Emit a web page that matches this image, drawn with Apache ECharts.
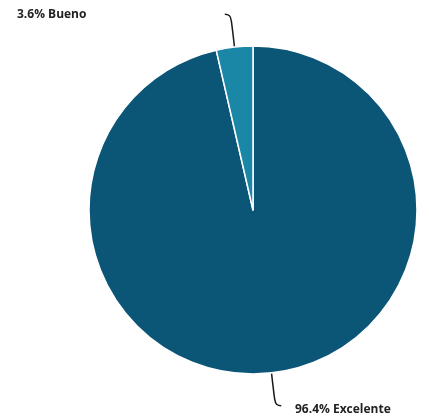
<!DOCTYPE html>
<html>
<head>
<meta charset="utf-8">
<script src="https://cdn.jsdelivr.net/npm/echarts@6/dist/echarts.min.js"></script>
<style>
html,body{margin:0;padding:0;background:#fff;}
#chart{width:429px;height:418px;}
</style>
</head>
<body>
<div id="chart"></div>
<script>
const categories = ['Excelente', 'Bueno'];
const values = [96.4, 3.6];
const colors = ['#0b5577', '#1b87a7'];

const data = categories.map((c, i) => ({ name: c, value: values[i], itemStyle: { color: colors[i] } }));

const chart = echarts.init(document.getElementById('chart'), null, { renderer: 'canvas' });
const labelPos = {
  'Bueno': { x: 17, y: 15, align: 'left' },
  'Excelente': { x: 295, y: 410, align: 'left' }
};
chart.setOption({
  animation: false,
  series: [
    {
      type: 'pie',
      center: [253, 210],
      radius: 164,
      startAngle: 90,
      clockwise: true,
      percentPrecision: 1,
      data: data,
      itemStyle: { borderColor: '#ffffff', borderWidth: 1.5 },
      label: {
        show: true,
        position: 'outside',
        formatter: '{d}% {b}',
        fontFamily: 'Open Sans',
        fontWeight: 'bold',
        fontSize: 12,
        color: '#222222'
      },
      labelLine: { show: false },
      labelLayout: function (p) {
        const pos = labelPos[p.text.split(' ').slice(1).join(' ')] || {};
        return { x: pos.x, y: pos.y, align: pos.align, verticalAlign: 'middle', hideOverlap: false };
      },
      emphasis: { disabled: true }
    },
    {
      type: 'pie',
      center: [253, 210],
      radius: 164,
      startAngle: 90,
      clockwise: true,
      silent: true,
      data: data.map(d => ({ name: d.name, value: d.value, itemStyle: { color: 'rgba(0,0,0,0)', borderWidth: 0 } })),
      label: { show: true, position: 'outside', formatter: ' ', fontSize: 1, color: 'rgba(0,0,0,0)', distanceToLabelLine: 0 },
      labelLine: { show: true, length: 33, length2: 6, smooth: 0.5, lineStyle: { color: '#1a1a1a', width: 1.5 } },
      emphasis: { disabled: true }
    }
  ]
});
</script>
</body>
</html>
